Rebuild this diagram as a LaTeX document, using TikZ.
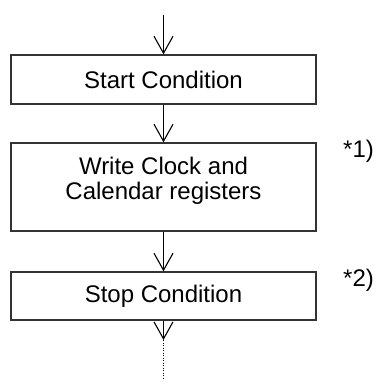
\documentclass[tikz,border=0pt]{standalone}
\usepackage{fontspec}
\setmainfont{Liberation Sans}
\usetikzlibrary{arrows.meta}
\begin{document}
\begin{tikzpicture}[x=1pt,y=-1pt,
  box/.style={draw=black!80,line width=1.3pt,minimum width=305pt,inner sep=0pt,font=\fontsize{24}{25}\selectfont},
  txt/.style={inner sep=0pt,font=\fontsize{24}{25}\selectfont,align=center},
  flow/.style={line width=1.1pt,-{Straight Barb[length=17pt,width=19pt,line width=1.1pt]}}]
\useasboundingbox (0,0) rectangle (376,390);
\coordinate (in) at (163.5,15);
\node[box,minimum height=49pt] (b1) at (163.5,79.5) {Start Condition};
\node[box,minimum height=88pt] (b2) at (163.5,187) {};
\node[txt] (t2) at (163.5,181) {Write Clock and\\Calendar registers};
\node[box,minimum height=48pt] (b3) at (163.5,296) {Stop Condition};
\coordinate (out) at (163.5,340);
\coordinate (end) at (163.5,379);
\node[txt,anchor=west] (n1) at (343,151) {*1)};
\node[txt,anchor=west] (n2) at (343,280) {*2)};
\draw[flow] (in) -- (b1.north);
\draw[flow] (b1.south) -- (b2.north);
\draw[flow] (b2.south) -- (b3.north);
\draw[flow] (b3.south) -- (out);
\draw[line width=1pt,dash pattern=on 1pt off 1.5pt] (out) -- (end);
\end{tikzpicture}
\end{document}
